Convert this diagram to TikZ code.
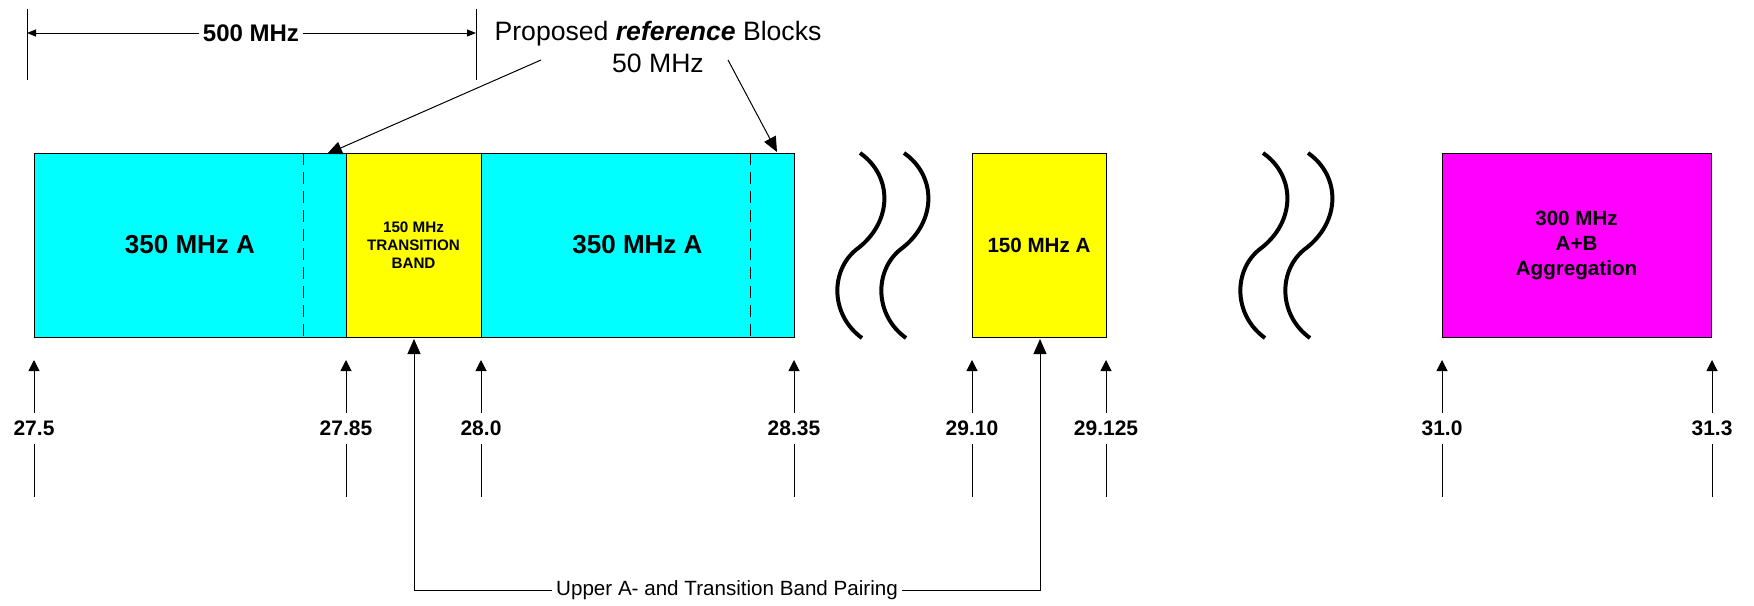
\documentclass[tikz,border=0pt]{standalone}
\usepackage{fontspec}
\setmainfont{Liberation Sans}
\usetikzlibrary{arrows.meta}
\definecolor{bandcyan}{RGB}{0,255,255}
\definecolor{bandyellow}{RGB}{255,255,0}
\definecolor{bandmag}{RGB}{255,0,255}
\begin{document}
\begin{tikzpicture}[x=0.5pt,y=-0.5pt,
  line width=0.5pt,
  arr/.style={-{Triangle[length=5.5pt,width=5.5pt]}},
  bigarr/.style={-{Triangle[length=7.5pt,width=6.5pt]}},
  dimarr/.style={-{Triangle[length=4.5pt,width=3.5pt]}},
  bandbox/.style={draw=black, line width=0.5pt, inner sep=0pt, minimum height=92pt, align=center, font=\bfseries\fontsize{13}{15}\selectfont},
  ticklbl/.style={inner sep=0pt, font=\bfseries\fontsize{10.5}{12}\selectfont},
  squig/.style={line width=2pt},
  divider/.style={dash pattern=on 6pt off 3.5pt},
  proptext/.style={font=\fontsize{13.3}{16}\selectfont, inner sep=0pt, anchor=base}]
\useasboundingbox (0,0) rectangle (1754,605);

% bands
\node[bandbox, fill=bandcyan, minimum width=156pt] (c1) at (190,245) {350 MHz A};
\node[bandbox, fill=bandyellow, minimum width=67.5pt, font=\bfseries\fontsize{7.6}{9}\selectfont] (tb) at (413.5,245) {150 MHz\\TRANSITION\\BAND};
\node[bandbox, fill=bandcyan, minimum width=156.5pt] (c2) at (637.5,245) {350 MHz A};
\node[bandbox, fill=bandyellow, minimum width=67pt, font=\bfseries\fontsize{10.3}{12}\selectfont] (ya) at (1039,245) {150 MHz A};
\node[bandbox, fill=bandmag, minimum width=134.5pt, font=\bfseries\fontsize{10.3}{12.5}\selectfont] (ag) at (1576.5,245) {300 MHz\\A+B\\Aggregation};

% dashed block dividers
\draw[divider] (303,153) -- (303,337);
\draw[divider] (750,153) -- (750,337);

% break marks
\foreach \dx in {0,44,403,448}{
  \draw[squig, shift={(\dx,0)}] (860,153) .. controls (893,176) and (893,222) .. (857,249)
     .. controls (830,270) and (830,315) .. (862,338);
}

% 500 MHz dimension
\coordinate (vl1) at (27,9); \coordinate (vl2) at (27,80);
\coordinate (vr1) at (476,9); \coordinate (vr2) at (476,80);
\draw (vl1) -- (vl2);
\draw (vr1) -- (vr2);
\coordinate (dl) at (27,33); \coordinate (dr) at (476,33);
\node[font=\bfseries\fontsize{12}{14}\selectfont, inner xsep=1.5pt, inner ysep=0pt] (dim) at (251,33) {500 MHz};
\draw[dimarr] (dim.west) -- (dl);
\draw[dimarr] (dim.east) -- (dr);

% proposed reference blocks
\node[proptext] (prop) at (658,40) {Proposed \textbf{\textit{reference}} Blocks};
\node[proptext] (prop50) at (658,72) {50 MHz};
\coordinate (pa1) at (541,60); \coordinate (pt1) at (327,154);
\coordinate (pa2) at (728,60); \coordinate (pt2) at (777,152);
\draw[bigarr] (pa1) -- (pt1);
\draw[bigarr] (pa2) -- (pt2);

% frequency ticks
\foreach \x/\l [count=\i] in {34/27.5, 346/27.85, 481/28.0, 794/28.35, 972/29.10, 1106/29.125, 1442/31.0, 1712/31.3}{
  \node[ticklbl] (lbl\i) at (\x,428) {\l};
  \coordinate (tip\i) at (\x,360);
  \coordinate (top\i) at (\x,413);
  \coordinate (low\i) at (\x,444);
  \coordinate (end\i) at (\x,497);
  \draw[arr] (top\i) -- (tip\i);
  \draw (low\i) -- (end\i);
}

% pairing
\node[font=\fontsize{10.3}{12}\selectfont, inner xsep=2pt, inner ysep=0pt, anchor=mid] (pair) at (727,590) {Upper A- and Transition Band Pairing};
\coordinate (pl) at (414,339); \coordinate (pr) at (1040,339);
\draw[bigarr] (pair.mid west) -| (pl);
\draw[bigarr] (pair.mid east) -| (pr);
\end{tikzpicture}
\end{document}
